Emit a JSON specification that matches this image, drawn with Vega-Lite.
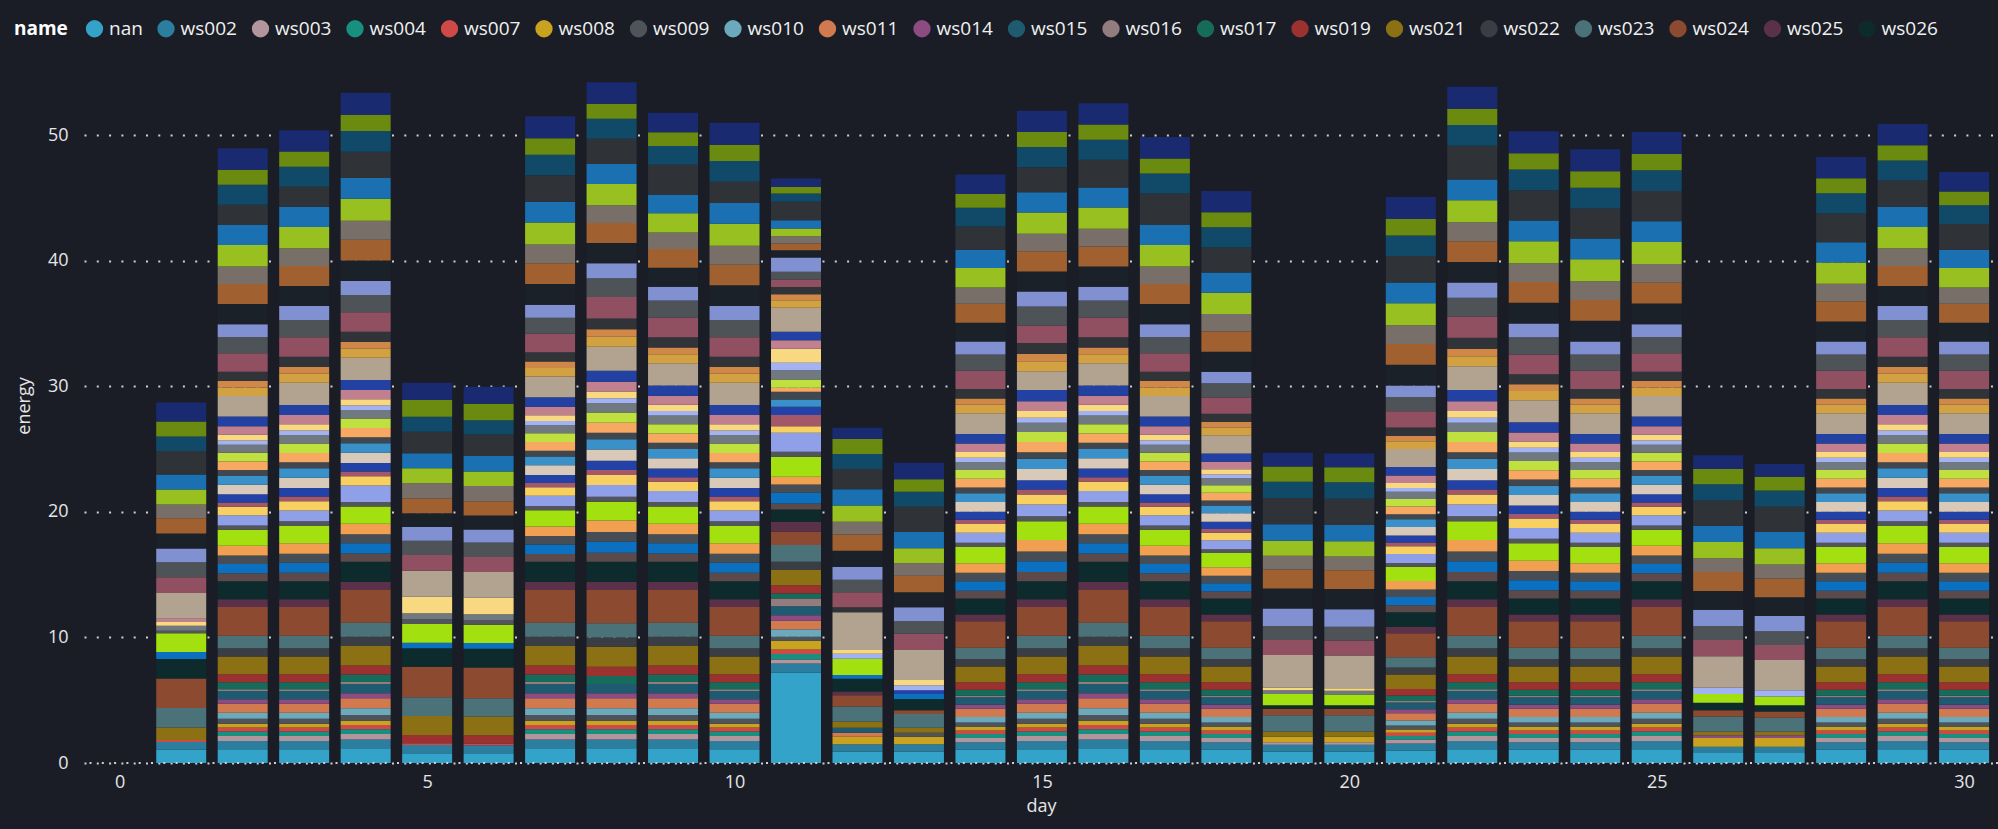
{
"$schema":"https://vega.github.io/schema/vega-lite/v6.json",
"width":1914,"height":715,
"autosize":{"type":"none"},
"padding":{"left":84,"top":48,"right":0,"bottom":66},
"background":"#1a1d26",
"config":{"view":{"stroke":null},"font":"Open Sans"},
"data":{"values":[
{"d":1,"n":"nan","e":1.05},{"d":1,"n":"ws002","e":0.63},{"d":1,"n":"ws007","e":0.15},{"d":1,"n":"ws021","e":1.0},{"d":1,"n":"ws023","e":1.55},{"d":1,"n":"ws024","e":2.35},{"d":1,"n":"ws026","e":1.55},{"d":1,"n":"ws028","e":0.55},{"d":1,"n":"ws031","e":1.5},{"d":1,"n":"ws032","e":0.2},{"d":1,"n":"ws042","e":0.4},{"d":1,"n":"ws044","e":0.3},{"d":1,"n":"ws045","e":0.25},{"d":1,"n":"ws047","e":2.05},{"d":1,"n":"ws051","e":1.25},{"d":1,"n":"ws052","e":1.2},{"d":1,"n":"ws053","e":1.1},{"d":1,"n":"ws054","e":1.2},{"d":1,"n":"ws055","e":1.2},{"d":1,"n":"ws056","e":1.1},{"d":1,"n":"ws057","e":1.2},{"d":1,"n":"ws058","e":1.2},{"d":1,"n":"ws059","e":1.87},{"d":1,"n":"ws060","e":1.15},{"d":1,"n":"ws061","e":1.2},{"d":1,"n":"ws062","e":1.5},
{"d":2,"n":"nan","e":1.1},{"d":2,"n":"ws002","e":0.65},{"d":2,"n":"ws003","e":0.4},{"d":2,"n":"ws004","e":0.35},{"d":2,"n":"ws007","e":0.32},{"d":2,"n":"ws008","e":0.3},{"d":2,"n":"ws009","e":0.4},{"d":2,"n":"ws010","e":0.48},{"d":2,"n":"ws011","e":0.72},{"d":2,"n":"ws014","e":0.36},{"d":2,"n":"ws015","e":0.66},{"d":2,"n":"ws016","e":0.14},{"d":2,"n":"ws017","e":0.54},{"d":2,"n":"ws019","e":0.65},{"d":2,"n":"ws021","e":1.4},{"d":2,"n":"ws022","e":0.66},{"d":2,"n":"ws023","e":1.0},{"d":2,"n":"ws024","e":2.3},{"d":2,"n":"ws025","e":0.6},{"d":2,"n":"ws026","e":1.45},
{"d":2,"n":"ws027","e":0.62},{"d":2,"n":"ws028","e":0.75},{"d":2,"n":"ws029","e":0.67},{"d":2,"n":"ws030","e":0.77},{"d":2,"n":"ws031","e":1.29},{"d":2,"n":"ws032","e":0.34},{"d":2,"n":"ws033","e":0.8},{"d":2,"n":"ws034","e":0.69},{"d":2,"n":"ws035","e":0.34},{"d":2,"n":"ws036","e":0.64},{"d":2,"n":"ws037","e":0.77},{"d":2,"n":"ws038","e":0.7},{"d":2,"n":"ws039","e":0.46},{"d":2,"n":"ws040","e":0.69},{"d":2,"n":"ws041","e":0.69},{"d":2,"n":"ws042","e":0.64},{"d":2,"n":"ws043","e":0.34},{"d":2,"n":"ws044","e":0.46},{"d":2,"n":"ws045","e":0.68},{"d":2,"n":"ws046","e":0.76},{"d":2,"n":"ws047","e":1.64},{"d":2,"n":"ws048","e":0.68},{"d":2,"n":"ws049","e":0.51},{"d":2,"n":"ws050","e":0.75},{"d":2,"n":"ws051","e":1.46},{"d":2,"n":"ws052","e":1.29},{"d":2,"n":"ws053","e":1.03},
{"d":2,"n":"ws054","e":1.6},{"d":2,"n":"ws055","e":1.6},{"d":2,"n":"ws056","e":1.4},{"d":2,"n":"ws057","e":1.7},{"d":2,"n":"ws058","e":1.6},{"d":2,"n":"ws059","e":1.6},{"d":2,"n":"ws060","e":1.6},{"d":2,"n":"ws061","e":1.2},{"d":2,"n":"ws062","e":1.7},
{"d":3,"n":"nan","e":1.1},{"d":3,"n":"ws002","e":0.65},{"d":3,"n":"ws003","e":0.4},{"d":3,"n":"ws004","e":0.35},{"d":3,"n":"ws007","e":0.32},{"d":3,"n":"ws008","e":0.3},{"d":3,"n":"ws009","e":0.4},{"d":3,"n":"ws010","e":0.48},{"d":3,"n":"ws011","e":0.72},{"d":3,"n":"ws014","e":0.36},{"d":3,"n":"ws015","e":0.66},{"d":3,"n":"ws016","e":0.14},{"d":3,"n":"ws017","e":0.54},{"d":3,"n":"ws019","e":0.65},{"d":3,"n":"ws021","e":1.4},{"d":3,"n":"ws022","e":0.66},{"d":3,"n":"ws023","e":1.0},{"d":3,"n":"ws024","e":2.3},{"d":3,"n":"ws025","e":0.6},{"d":3,"n":"ws026","e":1.45},
{"d":3,"n":"ws027","e":0.66},{"d":3,"n":"ws028","e":0.8},{"d":3,"n":"ws029","e":0.72},{"d":3,"n":"ws030","e":0.83},{"d":3,"n":"ws031","e":1.38},{"d":3,"n":"ws032","e":0.37},{"d":3,"n":"ws033","e":0.86},{"d":3,"n":"ws034","e":0.74},{"d":3,"n":"ws035","e":0.37},{"d":3,"n":"ws036","e":0.68},{"d":3,"n":"ws037","e":0.82},{"d":3,"n":"ws038","e":0.75},{"d":3,"n":"ws039","e":0.49},{"d":3,"n":"ws040","e":0.74},{"d":3,"n":"ws041","e":0.74},{"d":3,"n":"ws042","e":0.68},{"d":3,"n":"ws043","e":0.37},{"d":3,"n":"ws044","e":0.49},{"d":3,"n":"ws045","e":0.73},{"d":3,"n":"ws046","e":0.81},{"d":3,"n":"ws047","e":1.76},{"d":3,"n":"ws048","e":0.73},{"d":3,"n":"ws049","e":0.54},{"d":3,"n":"ws050","e":0.8},{"d":3,"n":"ws051","e":1.56},{"d":3,"n":"ws052","e":1.38},{"d":3,"n":"ws053","e":1.1},
{"d":3,"n":"ws054","e":1.6},{"d":3,"n":"ws055","e":1.6},{"d":3,"n":"ws056","e":1.4},{"d":3,"n":"ws057","e":1.7},{"d":3,"n":"ws058","e":1.6},{"d":3,"n":"ws059","e":1.6},{"d":3,"n":"ws060","e":1.6},{"d":3,"n":"ws061","e":1.2},{"d":3,"n":"ws062","e":1.7},
{"d":4,"n":"nan","e":1.17},{"d":4,"n":"ws002","e":0.7},{"d":4,"n":"ws003","e":0.43},{"d":4,"n":"ws004","e":0.38},{"d":4,"n":"ws007","e":0.35},{"d":4,"n":"ws008","e":0.34},{"d":4,"n":"ws009","e":0.45},{"d":4,"n":"ws010","e":0.53},{"d":4,"n":"ws011","e":0.8},{"d":4,"n":"ws014","e":0.4},{"d":4,"n":"ws015","e":0.74},{"d":4,"n":"ws016","e":0.15},{"d":4,"n":"ws017","e":0.6},{"d":4,"n":"ws019","e":0.72},{"d":4,"n":"ws021","e":1.55},{"d":4,"n":"ws022","e":0.74},{"d":4,"n":"ws023","e":1.12},{"d":4,"n":"ws024","e":2.6},{"d":4,"n":"ws025","e":0.67},{"d":4,"n":"ws026","e":1.59},
{"d":4,"n":"ws027","e":0.66},{"d":4,"n":"ws028","e":0.8},{"d":4,"n":"ws029","e":0.72},{"d":4,"n":"ws030","e":0.83},{"d":4,"n":"ws031","e":1.38},{"d":4,"n":"ws032","e":0.37},{"d":4,"n":"ws033","e":1.3},{"d":4,"n":"ws034","e":0.74},{"d":4,"n":"ws035","e":0.37},{"d":4,"n":"ws036","e":0.68},{"d":4,"n":"ws037","e":0.82},{"d":4,"n":"ws038","e":0.75},{"d":4,"n":"ws039","e":0.49},{"d":4,"n":"ws040","e":0.74},{"d":4,"n":"ws041","e":0.74},{"d":4,"n":"ws042","e":0.68},{"d":4,"n":"ws043","e":0.37},{"d":4,"n":"ws044","e":0.49},{"d":4,"n":"ws045","e":0.73},{"d":4,"n":"ws046","e":0.81},{"d":4,"n":"ws047","e":1.76},{"d":4,"n":"ws048","e":0.73},{"d":4,"n":"ws049","e":0.54},{"d":4,"n":"ws050","e":0.8},{"d":4,"n":"ws051","e":1.56},{"d":4,"n":"ws052","e":1.38},{"d":4,"n":"ws053","e":1.1},
{"d":4,"n":"ws054","e":1.65},{"d":4,"n":"ws055","e":1.65},{"d":4,"n":"ws056","e":1.5},{"d":4,"n":"ws057","e":1.75},{"d":4,"n":"ws058","e":1.65},{"d":4,"n":"ws059","e":2.1},{"d":4,"n":"ws060","e":1.65},{"d":4,"n":"ws061","e":1.3},{"d":4,"n":"ws062","e":1.75},
{"d":5,"n":"nan","e":0.72},{"d":5,"n":"ws002","e":0.71},{"d":5,"n":"ws007","e":0.14},{"d":5,"n":"ws019","e":0.66},{"d":5,"n":"ws021","e":1.51},{"d":5,"n":"ws023","e":1.49},{"d":5,"n":"ws024","e":2.44},{"d":5,"n":"ws026","e":1.46},{"d":5,"n":"ws028","e":0.45},{"d":5,"n":"ws031","e":1.49},{"d":5,"n":"ws032","e":0.37},{"d":5,"n":"ws042","e":0.48},{"d":5,"n":"ws044","e":1.32},{"d":5,"n":"ws047","e":2.07},{"d":5,"n":"ws051","e":1.25},{"d":5,"n":"ws052","e":1.14},{"d":5,"n":"ws053","e":1.1},{"d":5,"n":"ws054","e":1.08},{"d":5,"n":"ws055","e":1.19},{"d":5,"n":"ws056","e":1.2},{"d":5,"n":"ws057","e":1.19},{"d":5,"n":"ws058","e":1.2},{"d":5,"n":"ws059","e":1.72},{"d":5,"n":"ws060","e":1.19},{"d":5,"n":"ws061","e":1.33},{"d":5,"n":"ws062","e":1.38},
{"d":6,"n":"nan","e":0.72},{"d":6,"n":"ws002","e":0.7},{"d":6,"n":"ws007","e":0.14},{"d":6,"n":"ws019","e":0.64},{"d":6,"n":"ws021","e":1.5},{"d":6,"n":"ws023","e":1.45},{"d":6,"n":"ws024","e":2.45},{"d":6,"n":"ws026","e":1.5},{"d":6,"n":"ws028","e":0.45},{"d":6,"n":"ws031","e":1.45},{"d":6,"n":"ws032","e":0.35},{"d":6,"n":"ws042","e":0.5},{"d":6,"n":"ws044","e":1.3},{"d":6,"n":"ws047","e":2.05},{"d":6,"n":"ws051","e":1.2},{"d":6,"n":"ws052","e":1.15},{"d":6,"n":"ws053","e":1.05},{"d":6,"n":"ws054","e":1.1},{"d":6,"n":"ws055","e":1.15},{"d":6,"n":"ws056","e":1.2},{"d":6,"n":"ws057","e":1.15},{"d":6,"n":"ws058","e":1.25},{"d":6,"n":"ws059","e":1.7},{"d":6,"n":"ws060","e":1.15},{"d":6,"n":"ws061","e":1.3},{"d":6,"n":"ws062","e":1.35},
{"d":7,"n":"nan","e":1.17},{"d":7,"n":"ws002","e":0.7},{"d":7,"n":"ws003","e":0.43},{"d":7,"n":"ws004","e":0.38},{"d":7,"n":"ws007","e":0.35},{"d":7,"n":"ws008","e":0.34},{"d":7,"n":"ws009","e":0.45},{"d":7,"n":"ws010","e":0.53},{"d":7,"n":"ws011","e":0.8},{"d":7,"n":"ws014","e":0.4},{"d":7,"n":"ws015","e":0.74},{"d":7,"n":"ws016","e":0.15},{"d":7,"n":"ws017","e":0.6},{"d":7,"n":"ws019","e":0.72},{"d":7,"n":"ws021","e":1.55},{"d":7,"n":"ws022","e":0.74},{"d":7,"n":"ws023","e":1.12},{"d":7,"n":"ws024","e":2.6},{"d":7,"n":"ws025","e":0.67},{"d":7,"n":"ws026","e":1.59},
{"d":7,"n":"ws027","e":0.62},{"d":7,"n":"ws028","e":0.75},{"d":7,"n":"ws029","e":0.67},{"d":7,"n":"ws030","e":0.77},{"d":7,"n":"ws031","e":1.29},{"d":7,"n":"ws032","e":0.34},{"d":7,"n":"ws033","e":0.8},{"d":7,"n":"ws034","e":0.69},{"d":7,"n":"ws035","e":0.34},{"d":7,"n":"ws036","e":0.64},{"d":7,"n":"ws037","e":0.77},{"d":7,"n":"ws038","e":0.7},{"d":7,"n":"ws039","e":0.46},{"d":7,"n":"ws040","e":0.69},{"d":7,"n":"ws041","e":0.69},{"d":7,"n":"ws042","e":0.64},{"d":7,"n":"ws043","e":0.34},{"d":7,"n":"ws044","e":0.46},{"d":7,"n":"ws045","e":0.68},{"d":7,"n":"ws046","e":0.76},{"d":7,"n":"ws047","e":1.64},{"d":7,"n":"ws048","e":0.68},{"d":7,"n":"ws049","e":0.51},{"d":7,"n":"ws050","e":0.75},{"d":7,"n":"ws051","e":1.46},{"d":7,"n":"ws052","e":1.29},{"d":7,"n":"ws053","e":1.03},
{"d":7,"n":"ws054","e":1.65},{"d":7,"n":"ws055","e":1.65},{"d":7,"n":"ws056","e":1.5},{"d":7,"n":"ws057","e":1.75},{"d":7,"n":"ws058","e":1.65},{"d":7,"n":"ws059","e":2.1},{"d":7,"n":"ws060","e":1.65},{"d":7,"n":"ws061","e":1.3},{"d":7,"n":"ws062","e":1.75},
{"d":8,"n":"nan","e":1.17},{"d":8,"n":"ws002","e":0.7},{"d":8,"n":"ws003","e":0.43},{"d":8,"n":"ws004","e":0.38},{"d":8,"n":"ws007","e":0.35},{"d":8,"n":"ws008","e":0.34},{"d":8,"n":"ws009","e":0.45},{"d":8,"n":"ws010","e":0.53},{"d":8,"n":"ws011","e":0.8},{"d":8,"n":"ws014","e":0.4},{"d":8,"n":"ws015","e":0.74},{"d":8,"n":"ws017","e":0.64},{"d":8,"n":"ws019","e":0.74},{"d":8,"n":"ws021","e":1.59},{"d":8,"n":"ws022","e":0.74},{"d":8,"n":"ws023","e":1.12},{"d":8,"n":"ws024","e":2.65},{"d":8,"n":"ws025","e":0.67},{"d":8,"n":"ws026","e":1.59},
{"d":8,"n":"ws027","e":0.72},{"d":8,"n":"ws028","e":0.87},{"d":8,"n":"ws029","e":0.78},{"d":8,"n":"ws030","e":0.9},{"d":8,"n":"ws031","e":1.5},{"d":8,"n":"ws032","e":0.4},{"d":8,"n":"ws033","e":0.93},{"d":8,"n":"ws034","e":0.8},{"d":8,"n":"ws035","e":0.4},{"d":8,"n":"ws036","e":0.74},{"d":8,"n":"ws037","e":0.89},{"d":8,"n":"ws038","e":0.81},{"d":8,"n":"ws039","e":0.53},{"d":8,"n":"ws040","e":0.8},{"d":8,"n":"ws041","e":0.8},{"d":8,"n":"ws042","e":0.74},{"d":8,"n":"ws043","e":0.4},{"d":8,"n":"ws044","e":0.53},{"d":8,"n":"ws045","e":0.79},{"d":8,"n":"ws046","e":0.88},{"d":8,"n":"ws047","e":1.91},{"d":8,"n":"ws048","e":0.79},{"d":8,"n":"ws049","e":0.59},{"d":8,"n":"ws050","e":0.87},{"d":8,"n":"ws051","e":1.7},{"d":8,"n":"ws052","e":1.5},{"d":8,"n":"ws053","e":1.2},
{"d":8,"n":"ws054","e":1.6},{"d":8,"n":"ws055","e":1.6},{"d":8,"n":"ws056","e":1.4},{"d":8,"n":"ws057","e":1.7},{"d":8,"n":"ws058","e":1.6},{"d":8,"n":"ws059","e":2.0},{"d":8,"n":"ws060","e":1.6},{"d":8,"n":"ws061","e":1.2},{"d":8,"n":"ws062","e":1.7},
{"d":9,"n":"nan","e":1.17},{"d":9,"n":"ws002","e":0.7},{"d":9,"n":"ws003","e":0.43},{"d":9,"n":"ws004","e":0.38},{"d":9,"n":"ws007","e":0.35},{"d":9,"n":"ws008","e":0.34},{"d":9,"n":"ws009","e":0.45},{"d":9,"n":"ws010","e":0.53},{"d":9,"n":"ws011","e":0.8},{"d":9,"n":"ws014","e":0.4},{"d":9,"n":"ws015","e":0.74},{"d":9,"n":"ws016","e":0.15},{"d":9,"n":"ws017","e":0.6},{"d":9,"n":"ws019","e":0.72},{"d":9,"n":"ws021","e":1.55},{"d":9,"n":"ws022","e":0.74},{"d":9,"n":"ws023","e":1.12},{"d":9,"n":"ws024","e":2.6},{"d":9,"n":"ws025","e":0.67},{"d":9,"n":"ws026","e":1.59},
{"d":9,"n":"ws027","e":0.66},{"d":9,"n":"ws028","e":0.8},{"d":9,"n":"ws029","e":0.72},{"d":9,"n":"ws030","e":0.83},{"d":9,"n":"ws031","e":1.38},{"d":9,"n":"ws032","e":0.37},{"d":9,"n":"ws033","e":0.86},{"d":9,"n":"ws034","e":0.74},{"d":9,"n":"ws035","e":0.37},{"d":9,"n":"ws036","e":0.68},{"d":9,"n":"ws037","e":0.82},{"d":9,"n":"ws038","e":0.75},{"d":9,"n":"ws039","e":0.49},{"d":9,"n":"ws040","e":0.74},{"d":9,"n":"ws041","e":0.74},{"d":9,"n":"ws042","e":0.68},{"d":9,"n":"ws043","e":0.37},{"d":9,"n":"ws044","e":0.49},{"d":9,"n":"ws045","e":0.73},{"d":9,"n":"ws046","e":0.81},{"d":9,"n":"ws047","e":1.76},{"d":9,"n":"ws048","e":0.73},{"d":9,"n":"ws049","e":0.54},{"d":9,"n":"ws050","e":0.8},{"d":9,"n":"ws051","e":1.56},{"d":9,"n":"ws052","e":1.38},{"d":9,"n":"ws053","e":1.1},
{"d":9,"n":"ws054","e":1.5},{"d":9,"n":"ws055","e":1.5},{"d":9,"n":"ws056","e":1.3},{"d":9,"n":"ws057","e":1.55},{"d":9,"n":"ws058","e":1.45},{"d":9,"n":"ws059","e":2.4},{"d":9,"n":"ws060","e":1.5},{"d":9,"n":"ws061","e":1.1},{"d":9,"n":"ws062","e":1.55},
{"d":10,"n":"nan","e":1.1},{"d":10,"n":"ws002","e":0.65},{"d":10,"n":"ws003","e":0.4},{"d":10,"n":"ws004","e":0.35},{"d":10,"n":"ws007","e":0.32},{"d":10,"n":"ws008","e":0.3},{"d":10,"n":"ws009","e":0.4},{"d":10,"n":"ws010","e":0.48},{"d":10,"n":"ws011","e":0.72},{"d":10,"n":"ws014","e":0.36},{"d":10,"n":"ws015","e":0.66},{"d":10,"n":"ws016","e":0.14},{"d":10,"n":"ws017","e":0.54},{"d":10,"n":"ws019","e":0.65},{"d":10,"n":"ws021","e":1.4},{"d":10,"n":"ws022","e":0.66},{"d":10,"n":"ws023","e":1.0},{"d":10,"n":"ws024","e":2.3},{"d":10,"n":"ws025","e":0.6},{"d":10,"n":"ws026","e":1.45},
{"d":10,"n":"ws027","e":0.66},{"d":10,"n":"ws028","e":0.8},{"d":10,"n":"ws029","e":0.72},{"d":10,"n":"ws030","e":0.83},{"d":10,"n":"ws031","e":1.38},{"d":10,"n":"ws032","e":0.37},{"d":10,"n":"ws033","e":0.86},{"d":10,"n":"ws034","e":0.74},{"d":10,"n":"ws035","e":0.37},{"d":10,"n":"ws036","e":0.68},{"d":10,"n":"ws037","e":0.82},{"d":10,"n":"ws038","e":0.75},{"d":10,"n":"ws039","e":0.49},{"d":10,"n":"ws040","e":0.74},{"d":10,"n":"ws041","e":0.74},{"d":10,"n":"ws042","e":0.68},{"d":10,"n":"ws043","e":0.37},{"d":10,"n":"ws044","e":0.49},{"d":10,"n":"ws045","e":0.73},{"d":10,"n":"ws046","e":0.81},{"d":10,"n":"ws047","e":1.76},{"d":10,"n":"ws048","e":0.73},{"d":10,"n":"ws049","e":0.54},{"d":10,"n":"ws050","e":0.8},{"d":10,"n":"ws051","e":1.56},{"d":10,"n":"ws052","e":1.38},{"d":10,"n":"ws053","e":1.1},
{"d":10,"n":"ws054","e":1.65},{"d":10,"n":"ws055","e":1.65},{"d":10,"n":"ws056","e":1.5},{"d":10,"n":"ws057","e":1.75},{"d":10,"n":"ws058","e":1.65},{"d":10,"n":"ws059","e":1.7},{"d":10,"n":"ws060","e":1.65},{"d":10,"n":"ws061","e":1.3},{"d":10,"n":"ws062","e":1.75},
{"d":11,"n":"nan","e":7.19},{"d":11,"n":"ws002","e":0.74},{"d":11,"n":"ws003","e":0.32},{"d":11,"n":"ws004","e":0.42},{"d":11,"n":"ws007","e":0.37},{"d":11,"n":"ws008","e":0.69},{"d":11,"n":"ws009","e":0.32},{"d":11,"n":"ws010","e":0.58},{"d":11,"n":"ws011","e":0.69},{"d":11,"n":"ws014","e":0.45},{"d":11,"n":"ws015","e":0.72},{"d":11,"n":"ws016","e":0.61},{"d":11,"n":"ws017","e":0.4},{"d":11,"n":"ws019","e":0.66},{"d":11,"n":"ws021","e":1.2},{"d":11,"n":"ws022","e":0.66},{"d":11,"n":"ws023","e":1.33},{"d":11,"n":"ws024","e":1.06},{"d":11,"n":"ws025","e":0.79},{"d":11,"n":"ws026","e":0.99},
{"d":11,"n":"ws027","e":0.48},{"d":11,"n":"ws028","e":0.84},{"d":11,"n":"ws029","e":0.67},{"d":11,"n":"ws030","e":0.61},{"d":11,"n":"ws031","e":1.59},{"d":11,"n":"ws032","e":0.4},{"d":11,"n":"ws033","e":1.51},{"d":11,"n":"ws034","e":0.53},{"d":11,"n":"ws035","e":0.88},{"d":11,"n":"ws036","e":0.66},{"d":11,"n":"ws038","e":0.59},{"d":11,"n":"ws039","e":0.6},{"d":11,"n":"ws040","e":0.32},{"d":11,"n":"ws041","e":0.67},{"d":11,"n":"ws042","e":0.74},{"d":11,"n":"ws043","e":0.58},{"d":11,"n":"ws044","e":1.13},{"d":11,"n":"ws045","e":0.68},{"d":11,"n":"ws046","e":0.66},{"d":11,"n":"ws047","e":1.91},{"d":11,"n":"ws048","e":0.61},{"d":11,"n":"ws049","e":0.48},{"d":11,"n":"ws050","e":0.58},{"d":11,"n":"ws051","e":0.58},{"d":11,"n":"ws052","e":0.62},{"d":11,"n":"ws053","e":1.14},
{"d":11,"n":"ws054","e":0.58},{"d":11,"n":"ws055","e":0.54},{"d":11,"n":"ws056","e":0.58},{"d":11,"n":"ws057","e":0.61},{"d":11,"n":"ws058","e":0.66},{"d":11,"n":"ws059","e":1.46},{"d":11,"n":"ws060","e":0.66},{"d":11,"n":"ws061","e":0.53},{"d":11,"n":"ws062","e":0.66},
{"d":12,"n":"nan","e":0.9},{"d":12,"n":"ws002","e":0.6},{"d":12,"n":"ws008","e":0.6},{"d":12,"n":"ws011","e":0.3},{"d":12,"n":"ws015","e":0.4},{"d":12,"n":"ws021","e":0.5},{"d":12,"n":"ws023","e":1.2},{"d":12,"n":"ws024","e":0.9},{"d":12,"n":"ws025","e":0.3},{"d":12,"n":"ws026","e":1.0},{"d":12,"n":"ws028","e":0.3},{"d":12,"n":"ws031","e":1.3},{"d":12,"n":"ws043","e":0.4},{"d":12,"n":"ws044","e":0.3},{"d":12,"n":"ws047","e":3.0},{"d":12,"n":"ws050","e":0.4},{"d":12,"n":"ws051","e":1.2},{"d":12,"n":"ws052","e":1.0},{"d":12,"n":"ws053","e":1.0},{"d":12,"n":"ws054","e":1.3},{"d":12,"n":"ws055","e":1.3},{"d":12,"n":"ws056","e":1.0},{"d":12,"n":"ws057","e":1.3},{"d":12,"n":"ws058","e":1.3},{"d":12,"n":"ws059","e":1.6},{"d":12,"n":"ws060","e":1.2},{"d":12,"n":"ws061","e":1.2},{"d":12,"n":"ws062","e":0.9},
{"d":13,"n":"nan","e":0.9},{"d":13,"n":"ws002","e":0.6},{"d":13,"n":"ws008","e":0.6},{"d":13,"n":"ws009","e":0.3},{"d":13,"n":"ws021","e":0.4},{"d":13,"n":"ws023","e":1.1},{"d":13,"n":"ws024","e":0.3},{"d":13,"n":"ws026","e":0.9},{"d":13,"n":"ws028","e":0.4},{"d":13,"n":"ws036","e":0.3},{"d":13,"n":"ws043","e":0.4},{"d":13,"n":"ws044","e":0.4},{"d":13,"n":"ws047","e":2.4},{"d":13,"n":"ws051","e":1.3},{"d":13,"n":"ws052","e":1.0},{"d":13,"n":"ws053","e":1.1},{"d":13,"n":"ws054","e":1.2},{"d":13,"n":"ws055","e":1.3},{"d":13,"n":"ws056","e":1.0},{"d":13,"n":"ws057","e":1.2},{"d":13,"n":"ws058","e":1.3},{"d":13,"n":"ws059","e":2.0},{"d":13,"n":"ws060","e":1.2},{"d":13,"n":"ws061","e":1.0},{"d":13,"n":"ws062","e":1.3},
{"d":14,"n":"nan","e":1.05},{"d":14,"n":"ws002","e":0.6},{"d":14,"n":"ws003","e":0.35},{"d":14,"n":"ws004","e":0.31},{"d":14,"n":"ws007","e":0.28},{"d":14,"n":"ws008","e":0.28},{"d":14,"n":"ws009","e":0.36},{"d":14,"n":"ws010","e":0.43},{"d":14,"n":"ws011","e":0.65},{"d":14,"n":"ws014","e":0.32},{"d":14,"n":"ws015","e":0.6},{"d":14,"n":"ws016","e":0.12},{"d":14,"n":"ws017","e":0.49},{"d":14,"n":"ws019","e":0.58},{"d":14,"n":"ws021","e":1.26},{"d":14,"n":"ws022","e":0.6},{"d":14,"n":"ws023","e":0.9},{"d":14,"n":"ws024","e":2.1},{"d":14,"n":"ws025","e":0.54},{"d":14,"n":"ws026","e":1.28},
{"d":14,"n":"ws027","e":0.62},{"d":14,"n":"ws028","e":0.75},{"d":14,"n":"ws029","e":0.67},{"d":14,"n":"ws030","e":0.77},{"d":14,"n":"ws031","e":1.29},{"d":14,"n":"ws032","e":0.34},{"d":14,"n":"ws033","e":0.8},{"d":14,"n":"ws034","e":0.69},{"d":14,"n":"ws035","e":0.34},{"d":14,"n":"ws036","e":0.64},{"d":14,"n":"ws037","e":0.77},{"d":14,"n":"ws038","e":0.7},{"d":14,"n":"ws039","e":0.46},{"d":14,"n":"ws040","e":0.69},{"d":14,"n":"ws041","e":0.69},{"d":14,"n":"ws042","e":0.64},{"d":14,"n":"ws043","e":0.34},{"d":14,"n":"ws044","e":0.46},{"d":14,"n":"ws045","e":0.68},{"d":14,"n":"ws046","e":0.76},{"d":14,"n":"ws047","e":1.64},{"d":14,"n":"ws048","e":0.68},{"d":14,"n":"ws049","e":0.51},{"d":14,"n":"ws050","e":0.75},{"d":14,"n":"ws051","e":1.46},{"d":14,"n":"ws052","e":1.29},{"d":14,"n":"ws053","e":1.03},
{"d":14,"n":"ws054","e":1.5},{"d":14,"n":"ws055","e":1.5},{"d":14,"n":"ws056","e":1.3},{"d":14,"n":"ws057","e":1.55},{"d":14,"n":"ws058","e":1.45},{"d":14,"n":"ws059","e":1.85},{"d":14,"n":"ws060","e":1.5},{"d":14,"n":"ws061","e":1.1},{"d":14,"n":"ws062","e":1.55},
{"d":15,"n":"nan","e":1.1},{"d":15,"n":"ws002","e":0.65},{"d":15,"n":"ws003","e":0.4},{"d":15,"n":"ws004","e":0.35},{"d":15,"n":"ws007","e":0.32},{"d":15,"n":"ws008","e":0.3},{"d":15,"n":"ws009","e":0.4},{"d":15,"n":"ws010","e":0.48},{"d":15,"n":"ws011","e":0.72},{"d":15,"n":"ws014","e":0.36},{"d":15,"n":"ws015","e":0.66},{"d":15,"n":"ws016","e":0.14},{"d":15,"n":"ws017","e":0.54},{"d":15,"n":"ws019","e":0.65},{"d":15,"n":"ws021","e":1.4},{"d":15,"n":"ws022","e":0.66},{"d":15,"n":"ws023","e":1.0},{"d":15,"n":"ws024","e":2.3},{"d":15,"n":"ws025","e":0.6},{"d":15,"n":"ws026","e":1.45},
{"d":15,"n":"ws027","e":0.72},{"d":15,"n":"ws028","e":0.87},{"d":15,"n":"ws029","e":0.78},{"d":15,"n":"ws030","e":0.9},{"d":15,"n":"ws031","e":1.5},{"d":15,"n":"ws032","e":0.4},{"d":15,"n":"ws033","e":0.93},{"d":15,"n":"ws034","e":0.8},{"d":15,"n":"ws035","e":0.4},{"d":15,"n":"ws036","e":0.74},{"d":15,"n":"ws037","e":0.89},{"d":15,"n":"ws038","e":0.81},{"d":15,"n":"ws039","e":0.53},{"d":15,"n":"ws040","e":0.8},{"d":15,"n":"ws041","e":0.8},{"d":15,"n":"ws042","e":0.74},{"d":15,"n":"ws043","e":0.4},{"d":15,"n":"ws044","e":0.53},{"d":15,"n":"ws045","e":0.79},{"d":15,"n":"ws046","e":0.88},{"d":15,"n":"ws047","e":1.5},{"d":15,"n":"ws048","e":0.79},{"d":15,"n":"ws049","e":0.59},{"d":15,"n":"ws050","e":0.87},{"d":15,"n":"ws051","e":1.4},{"d":15,"n":"ws052","e":1.5},{"d":15,"n":"ws053","e":1.2},
{"d":15,"n":"ws054","e":1.6},{"d":15,"n":"ws055","e":1.6},{"d":15,"n":"ws056","e":1.4},{"d":15,"n":"ws057","e":1.7},{"d":15,"n":"ws058","e":1.6},{"d":15,"n":"ws059","e":2.0},{"d":15,"n":"ws060","e":1.6},{"d":15,"n":"ws061","e":1.2},{"d":15,"n":"ws062","e":1.7},
{"d":16,"n":"nan","e":1.17},{"d":16,"n":"ws002","e":0.7},{"d":16,"n":"ws003","e":0.43},{"d":16,"n":"ws004","e":0.38},{"d":16,"n":"ws007","e":0.35},{"d":16,"n":"ws008","e":0.34},{"d":16,"n":"ws009","e":0.45},{"d":16,"n":"ws010","e":0.53},{"d":16,"n":"ws011","e":0.8},{"d":16,"n":"ws014","e":0.4},{"d":16,"n":"ws015","e":0.74},{"d":16,"n":"ws016","e":0.15},{"d":16,"n":"ws017","e":0.6},{"d":16,"n":"ws019","e":0.72},{"d":16,"n":"ws021","e":1.55},{"d":16,"n":"ws022","e":0.74},{"d":16,"n":"ws023","e":1.12},{"d":16,"n":"ws024","e":2.6},{"d":16,"n":"ws025","e":0.67},{"d":16,"n":"ws026","e":1.59},
{"d":16,"n":"ws027","e":0.66},{"d":16,"n":"ws028","e":0.8},{"d":16,"n":"ws029","e":0.72},{"d":16,"n":"ws030","e":0.83},{"d":16,"n":"ws031","e":1.38},{"d":16,"n":"ws032","e":0.37},{"d":16,"n":"ws033","e":0.86},{"d":16,"n":"ws034","e":0.74},{"d":16,"n":"ws035","e":0.37},{"d":16,"n":"ws036","e":0.68},{"d":16,"n":"ws037","e":0.82},{"d":16,"n":"ws038","e":0.75},{"d":16,"n":"ws039","e":0.49},{"d":16,"n":"ws040","e":0.74},{"d":16,"n":"ws041","e":0.74},{"d":16,"n":"ws042","e":0.68},{"d":16,"n":"ws043","e":0.37},{"d":16,"n":"ws044","e":0.49},{"d":16,"n":"ws045","e":0.73},{"d":16,"n":"ws046","e":0.81},{"d":16,"n":"ws047","e":1.76},{"d":16,"n":"ws048","e":0.73},{"d":16,"n":"ws049","e":0.54},{"d":16,"n":"ws050","e":0.8},{"d":16,"n":"ws051","e":1.56},{"d":16,"n":"ws052","e":1.38},{"d":16,"n":"ws053","e":1.1},
{"d":16,"n":"ws054","e":1.6},{"d":16,"n":"ws055","e":1.6},{"d":16,"n":"ws056","e":1.4},{"d":16,"n":"ws057","e":1.7},{"d":16,"n":"ws058","e":1.6},{"d":16,"n":"ws059","e":2.2},{"d":16,"n":"ws060","e":1.6},{"d":16,"n":"ws061","e":1.2},{"d":16,"n":"ws062","e":1.7},
{"d":17,"n":"nan","e":1.1},{"d":17,"n":"ws002","e":0.65},{"d":17,"n":"ws003","e":0.4},{"d":17,"n":"ws004","e":0.35},{"d":17,"n":"ws007","e":0.32},{"d":17,"n":"ws008","e":0.3},{"d":17,"n":"ws009","e":0.4},{"d":17,"n":"ws010","e":0.48},{"d":17,"n":"ws011","e":0.72},{"d":17,"n":"ws014","e":0.36},{"d":17,"n":"ws015","e":0.66},{"d":17,"n":"ws016","e":0.14},{"d":17,"n":"ws017","e":0.54},{"d":17,"n":"ws019","e":0.65},{"d":17,"n":"ws021","e":1.4},{"d":17,"n":"ws022","e":0.66},{"d":17,"n":"ws023","e":1.0},{"d":17,"n":"ws024","e":2.3},{"d":17,"n":"ws025","e":0.6},{"d":17,"n":"ws026","e":1.45},
{"d":17,"n":"ws027","e":0.62},{"d":17,"n":"ws028","e":0.75},{"d":17,"n":"ws029","e":0.67},{"d":17,"n":"ws030","e":0.77},{"d":17,"n":"ws031","e":1.29},{"d":17,"n":"ws032","e":0.34},{"d":17,"n":"ws033","e":0.8},{"d":17,"n":"ws034","e":0.69},{"d":17,"n":"ws035","e":0.34},{"d":17,"n":"ws036","e":0.64},{"d":17,"n":"ws037","e":0.77},{"d":17,"n":"ws038","e":0.7},{"d":17,"n":"ws039","e":0.46},{"d":17,"n":"ws040","e":0.69},{"d":17,"n":"ws041","e":0.69},{"d":17,"n":"ws042","e":0.64},{"d":17,"n":"ws043","e":0.34},{"d":17,"n":"ws044","e":0.46},{"d":17,"n":"ws045","e":0.68},{"d":17,"n":"ws046","e":0.76},{"d":17,"n":"ws047","e":1.64},{"d":17,"n":"ws048","e":0.68},{"d":17,"n":"ws049","e":0.51},{"d":17,"n":"ws050","e":0.75},{"d":17,"n":"ws051","e":1.46},{"d":17,"n":"ws052","e":1.29},{"d":17,"n":"ws053","e":1.03},
{"d":17,"n":"ws054","e":1.6},{"d":17,"n":"ws055","e":1.6},{"d":17,"n":"ws056","e":1.4},{"d":17,"n":"ws057","e":1.7},{"d":17,"n":"ws058","e":1.6},{"d":17,"n":"ws059","e":2.5},{"d":17,"n":"ws060","e":1.6},{"d":17,"n":"ws061","e":1.2},{"d":17,"n":"ws062","e":1.7},
{"d":18,"n":"nan","e":1.05},{"d":18,"n":"ws002","e":0.6},{"d":18,"n":"ws003","e":0.35},{"d":18,"n":"ws004","e":0.31},{"d":18,"n":"ws007","e":0.28},{"d":18,"n":"ws008","e":0.28},{"d":18,"n":"ws009","e":0.36},{"d":18,"n":"ws010","e":0.43},{"d":18,"n":"ws011","e":0.65},{"d":18,"n":"ws014","e":0.32},{"d":18,"n":"ws015","e":0.6},{"d":18,"n":"ws016","e":0.12},{"d":18,"n":"ws017","e":0.49},{"d":18,"n":"ws019","e":0.58},{"d":18,"n":"ws021","e":1.26},{"d":18,"n":"ws022","e":0.6},{"d":18,"n":"ws023","e":0.9},{"d":18,"n":"ws024","e":2.1},{"d":18,"n":"ws025","e":0.54},{"d":18,"n":"ws026","e":1.28},
{"d":18,"n":"ws027","e":0.55},{"d":18,"n":"ws028","e":0.66},{"d":18,"n":"ws029","e":0.59},{"d":18,"n":"ws030","e":0.68},{"d":18,"n":"ws031","e":1.14},{"d":18,"n":"ws032","e":0.3},{"d":18,"n":"ws033","e":0.71},{"d":18,"n":"ws034","e":0.61},{"d":18,"n":"ws035","e":0.3},{"d":18,"n":"ws036","e":0.56},{"d":18,"n":"ws037","e":0.68},{"d":18,"n":"ws038","e":0.62},{"d":18,"n":"ws039","e":0.4},{"d":18,"n":"ws040","e":0.61},{"d":18,"n":"ws041","e":0.61},{"d":18,"n":"ws042","e":0.56},{"d":18,"n":"ws043","e":0.3},{"d":18,"n":"ws044","e":0.4},{"d":18,"n":"ws045","e":0.6},{"d":18,"n":"ws046","e":0.67},{"d":18,"n":"ws047","e":1.45},{"d":18,"n":"ws048","e":0.6},{"d":18,"n":"ws049","e":0.45},{"d":18,"n":"ws050","e":0.66},{"d":18,"n":"ws051","e":1.29},{"d":18,"n":"ws052","e":1.14},{"d":18,"n":"ws053","e":0.91},
{"d":18,"n":"ws054","e":1.6},{"d":18,"n":"ws055","e":1.6},{"d":18,"n":"ws056","e":1.4},{"d":18,"n":"ws057","e":1.7},{"d":18,"n":"ws058","e":1.6},{"d":18,"n":"ws059","e":2.0},{"d":18,"n":"ws060","e":1.6},{"d":18,"n":"ws061","e":1.2},{"d":18,"n":"ws062","e":1.7},
{"d":19,"n":"nan","e":0.9},{"d":19,"n":"ws002","e":0.55},{"d":19,"n":"ws003","e":0.2},{"d":19,"n":"ws008","e":0.45},{"d":19,"n":"ws021","e":0.4},{"d":19,"n":"ws023","e":1.3},{"d":19,"n":"ws024","e":0.5},{"d":19,"n":"ws026","e":0.3},{"d":19,"n":"ws031","e":0.9},{"d":19,"n":"ws042","e":0.3},{"d":19,"n":"ws044","e":0.2},{"d":19,"n":"ws047","e":2.6},{"d":19,"n":"ws051","e":1.2},{"d":19,"n":"ws052","e":1.1},{"d":19,"n":"ws053","e":1.4},{"d":19,"n":"ws054","e":1.6},{"d":19,"n":"ws055","e":1.5},{"d":19,"n":"ws056","e":1.1},{"d":19,"n":"ws057","e":1.2},{"d":19,"n":"ws058","e":1.3},{"d":19,"n":"ws059","e":2.1},{"d":19,"n":"ws060","e":1.3},{"d":19,"n":"ws061","e":1.2},{"d":19,"n":"ws062","e":1.1},
{"d":20,"n":"nan","e":0.9},{"d":20,"n":"ws002","e":0.55},{"d":20,"n":"ws003","e":0.2},{"d":20,"n":"ws008","e":0.45},{"d":20,"n":"ws021","e":0.4},{"d":20,"n":"ws023","e":1.3},{"d":20,"n":"ws024","e":0.5},{"d":20,"n":"ws026","e":0.3},{"d":20,"n":"ws031","e":0.85},{"d":20,"n":"ws042","e":0.3},{"d":20,"n":"ws044","e":0.2},{"d":20,"n":"ws047","e":2.6},{"d":20,"n":"ws051","e":1.2},{"d":20,"n":"ws052","e":1.1},{"d":20,"n":"ws053","e":1.4},{"d":20,"n":"ws054","e":1.6},{"d":20,"n":"ws055","e":1.5},{"d":20,"n":"ws056","e":1.1},{"d":20,"n":"ws057","e":1.2},{"d":20,"n":"ws058","e":1.3},{"d":20,"n":"ws059","e":2.1},{"d":20,"n":"ws060","e":1.3},{"d":20,"n":"ws061","e":1.2},{"d":20,"n":"ws062","e":1.1},
{"d":21,"n":"nan","e":1.0},{"d":21,"n":"ws002","e":0.55},{"d":21,"n":"ws003","e":0.32},{"d":21,"n":"ws004","e":0.28},{"d":21,"n":"ws007","e":0.26},{"d":21,"n":"ws008","e":0.25},{"d":21,"n":"ws009","e":0.33},{"d":21,"n":"ws010","e":0.39},{"d":21,"n":"ws011","e":0.59},{"d":21,"n":"ws014","e":0.3},{"d":21,"n":"ws015","e":0.55},{"d":21,"n":"ws016","e":0.11},{"d":21,"n":"ws017","e":0.44},{"d":21,"n":"ws019","e":0.53},{"d":21,"n":"ws021","e":1.15},{"d":21,"n":"ws022","e":0.55},{"d":21,"n":"ws023","e":0.83},{"d":21,"n":"ws024","e":1.9},{"d":21,"n":"ws025","e":0.5},{"d":21,"n":"ws026","e":1.18},
{"d":21,"n":"ws027","e":0.55},{"d":21,"n":"ws028","e":0.66},{"d":21,"n":"ws029","e":0.59},{"d":21,"n":"ws030","e":0.68},{"d":21,"n":"ws031","e":1.14},{"d":21,"n":"ws032","e":0.3},{"d":21,"n":"ws033","e":0.71},{"d":21,"n":"ws034","e":0.61},{"d":21,"n":"ws035","e":0.3},{"d":21,"n":"ws036","e":0.56},{"d":21,"n":"ws037","e":0.68},{"d":21,"n":"ws038","e":0.62},{"d":21,"n":"ws039","e":0.4},{"d":21,"n":"ws040","e":0.61},{"d":21,"n":"ws041","e":0.61},{"d":21,"n":"ws042","e":0.56},{"d":21,"n":"ws043","e":0.3},{"d":21,"n":"ws044","e":0.4},{"d":21,"n":"ws045","e":0.6},{"d":21,"n":"ws046","e":0.67},{"d":21,"n":"ws047","e":1.45},{"d":21,"n":"ws048","e":0.6},{"d":21,"n":"ws049","e":0.45},{"d":21,"n":"ws050","e":0.66},{"d":21,"n":"ws051","e":1.29},{"d":21,"n":"ws052","e":1.14},{"d":21,"n":"ws053","e":0.91},
{"d":21,"n":"ws054","e":1.65},{"d":21,"n":"ws055","e":1.65},{"d":21,"n":"ws056","e":1.5},{"d":21,"n":"ws057","e":1.75},{"d":21,"n":"ws058","e":1.65},{"d":21,"n":"ws059","e":2.1},{"d":21,"n":"ws060","e":1.65},{"d":21,"n":"ws061","e":1.3},{"d":21,"n":"ws062","e":1.75},
{"d":22,"n":"nan","e":1.1},{"d":22,"n":"ws002","e":0.65},{"d":22,"n":"ws003","e":0.4},{"d":22,"n":"ws004","e":0.35},{"d":22,"n":"ws007","e":0.32},{"d":22,"n":"ws008","e":0.3},{"d":22,"n":"ws009","e":0.4},{"d":22,"n":"ws010","e":0.48},{"d":22,"n":"ws011","e":0.72},{"d":22,"n":"ws014","e":0.36},{"d":22,"n":"ws015","e":0.66},{"d":22,"n":"ws016","e":0.14},{"d":22,"n":"ws017","e":0.54},{"d":22,"n":"ws019","e":0.65},{"d":22,"n":"ws021","e":1.4},{"d":22,"n":"ws022","e":0.66},{"d":22,"n":"ws023","e":1.0},{"d":22,"n":"ws024","e":2.3},{"d":22,"n":"ws025","e":0.6},{"d":22,"n":"ws026","e":1.45},
{"d":22,"n":"ws027","e":0.72},{"d":22,"n":"ws028","e":0.87},{"d":22,"n":"ws029","e":0.78},{"d":22,"n":"ws030","e":0.9},{"d":22,"n":"ws031","e":1.5},{"d":22,"n":"ws032","e":0.4},{"d":22,"n":"ws033","e":0.93},{"d":22,"n":"ws034","e":0.8},{"d":22,"n":"ws035","e":0.4},{"d":22,"n":"ws036","e":0.74},{"d":22,"n":"ws037","e":0.89},{"d":22,"n":"ws038","e":0.81},{"d":22,"n":"ws039","e":0.53},{"d":22,"n":"ws040","e":0.8},{"d":22,"n":"ws041","e":0.8},{"d":22,"n":"ws042","e":0.74},{"d":22,"n":"ws043","e":0.4},{"d":22,"n":"ws044","e":0.53},{"d":22,"n":"ws045","e":0.79},{"d":22,"n":"ws046","e":0.88},{"d":22,"n":"ws047","e":1.91},{"d":22,"n":"ws048","e":0.79},{"d":22,"n":"ws049","e":0.59},{"d":22,"n":"ws050","e":0.87},{"d":22,"n":"ws051","e":1.7},{"d":22,"n":"ws052","e":1.5},{"d":22,"n":"ws053","e":1.2},
{"d":22,"n":"ws054","e":1.65},{"d":22,"n":"ws055","e":1.65},{"d":22,"n":"ws056","e":1.5},{"d":22,"n":"ws057","e":1.75},{"d":22,"n":"ws058","e":1.65},{"d":22,"n":"ws059","e":2.7},{"d":22,"n":"ws060","e":1.65},{"d":22,"n":"ws061","e":1.3},{"d":22,"n":"ws062","e":1.75},
{"d":23,"n":"nan","e":1.05},{"d":23,"n":"ws002","e":0.6},{"d":23,"n":"ws003","e":0.35},{"d":23,"n":"ws004","e":0.31},{"d":23,"n":"ws007","e":0.28},{"d":23,"n":"ws008","e":0.28},{"d":23,"n":"ws009","e":0.36},{"d":23,"n":"ws010","e":0.43},{"d":23,"n":"ws011","e":0.65},{"d":23,"n":"ws014","e":0.32},{"d":23,"n":"ws015","e":0.6},{"d":23,"n":"ws016","e":0.12},{"d":23,"n":"ws017","e":0.49},{"d":23,"n":"ws019","e":0.58},{"d":23,"n":"ws021","e":1.26},{"d":23,"n":"ws022","e":0.6},{"d":23,"n":"ws023","e":0.9},{"d":23,"n":"ws024","e":2.1},{"d":23,"n":"ws025","e":0.54},{"d":23,"n":"ws026","e":1.28},
{"d":23,"n":"ws027","e":0.66},{"d":23,"n":"ws028","e":0.8},{"d":23,"n":"ws029","e":0.72},{"d":23,"n":"ws030","e":0.83},{"d":23,"n":"ws031","e":1.38},{"d":23,"n":"ws032","e":0.37},{"d":23,"n":"ws033","e":0.86},{"d":23,"n":"ws034","e":0.74},{"d":23,"n":"ws035","e":0.37},{"d":23,"n":"ws036","e":0.68},{"d":23,"n":"ws037","e":0.82},{"d":23,"n":"ws038","e":0.75},{"d":23,"n":"ws039","e":0.49},{"d":23,"n":"ws040","e":0.74},{"d":23,"n":"ws041","e":0.74},{"d":23,"n":"ws042","e":0.68},{"d":23,"n":"ws043","e":0.37},{"d":23,"n":"ws044","e":0.49},{"d":23,"n":"ws045","e":0.73},{"d":23,"n":"ws046","e":0.81},{"d":23,"n":"ws047","e":1.76},{"d":23,"n":"ws048","e":0.73},{"d":23,"n":"ws049","e":0.54},{"d":23,"n":"ws050","e":0.8},{"d":23,"n":"ws051","e":1.56},{"d":23,"n":"ws052","e":1.38},{"d":23,"n":"ws053","e":1.1},
{"d":23,"n":"ws054","e":1.65},{"d":23,"n":"ws055","e":1.65},{"d":23,"n":"ws056","e":1.5},{"d":23,"n":"ws057","e":1.75},{"d":23,"n":"ws058","e":1.65},{"d":23,"n":"ws059","e":2.4},{"d":23,"n":"ws060","e":1.65},{"d":23,"n":"ws061","e":1.3},{"d":23,"n":"ws062","e":1.75},
{"d":24,"n":"nan","e":1.05},{"d":24,"n":"ws002","e":0.6},{"d":24,"n":"ws003","e":0.35},{"d":24,"n":"ws004","e":0.31},{"d":24,"n":"ws007","e":0.28},{"d":24,"n":"ws008","e":0.28},{"d":24,"n":"ws009","e":0.36},{"d":24,"n":"ws010","e":0.43},{"d":24,"n":"ws011","e":0.65},{"d":24,"n":"ws014","e":0.32},{"d":24,"n":"ws015","e":0.6},{"d":24,"n":"ws016","e":0.12},{"d":24,"n":"ws017","e":0.49},{"d":24,"n":"ws019","e":0.58},{"d":24,"n":"ws021","e":1.26},{"d":24,"n":"ws022","e":0.6},{"d":24,"n":"ws023","e":0.9},{"d":24,"n":"ws024","e":2.1},{"d":24,"n":"ws025","e":0.54},{"d":24,"n":"ws026","e":1.28},
{"d":24,"n":"ws027","e":0.62},{"d":24,"n":"ws028","e":0.75},{"d":24,"n":"ws029","e":0.67},{"d":24,"n":"ws030","e":0.77},{"d":24,"n":"ws031","e":1.29},{"d":24,"n":"ws032","e":0.34},{"d":24,"n":"ws033","e":0.8},{"d":24,"n":"ws034","e":0.69},{"d":24,"n":"ws035","e":0.34},{"d":24,"n":"ws036","e":0.64},{"d":24,"n":"ws037","e":0.77},{"d":24,"n":"ws038","e":0.7},{"d":24,"n":"ws039","e":0.46},{"d":24,"n":"ws040","e":0.69},{"d":24,"n":"ws041","e":0.69},{"d":24,"n":"ws042","e":0.64},{"d":24,"n":"ws043","e":0.34},{"d":24,"n":"ws044","e":0.46},{"d":24,"n":"ws045","e":0.68},{"d":24,"n":"ws046","e":0.76},{"d":24,"n":"ws047","e":1.64},{"d":24,"n":"ws048","e":0.68},{"d":24,"n":"ws049","e":0.51},{"d":24,"n":"ws050","e":0.75},{"d":24,"n":"ws051","e":1.46},{"d":24,"n":"ws052","e":1.29},{"d":24,"n":"ws053","e":1.03},
{"d":24,"n":"ws054","e":1.65},{"d":24,"n":"ws055","e":1.65},{"d":24,"n":"ws056","e":1.5},{"d":24,"n":"ws057","e":1.75},{"d":24,"n":"ws058","e":1.65},{"d":24,"n":"ws059","e":2.4},{"d":24,"n":"ws060","e":1.65},{"d":24,"n":"ws061","e":1.3},{"d":24,"n":"ws062","e":1.75},
{"d":25,"n":"nan","e":1.1},{"d":25,"n":"ws002","e":0.65},{"d":25,"n":"ws003","e":0.4},{"d":25,"n":"ws004","e":0.35},{"d":25,"n":"ws007","e":0.32},{"d":25,"n":"ws008","e":0.3},{"d":25,"n":"ws009","e":0.4},{"d":25,"n":"ws010","e":0.48},{"d":25,"n":"ws011","e":0.72},{"d":25,"n":"ws014","e":0.36},{"d":25,"n":"ws015","e":0.66},{"d":25,"n":"ws016","e":0.14},{"d":25,"n":"ws017","e":0.54},{"d":25,"n":"ws019","e":0.65},{"d":25,"n":"ws021","e":1.4},{"d":25,"n":"ws022","e":0.66},{"d":25,"n":"ws023","e":1.0},{"d":25,"n":"ws024","e":2.3},{"d":25,"n":"ws025","e":0.6},{"d":25,"n":"ws026","e":1.45},
{"d":25,"n":"ws027","e":0.62},{"d":25,"n":"ws028","e":0.75},{"d":25,"n":"ws029","e":0.67},{"d":25,"n":"ws030","e":0.77},{"d":25,"n":"ws031","e":1.29},{"d":25,"n":"ws032","e":0.34},{"d":25,"n":"ws033","e":0.8},{"d":25,"n":"ws034","e":0.69},{"d":25,"n":"ws035","e":0.34},{"d":25,"n":"ws036","e":0.64},{"d":25,"n":"ws037","e":0.77},{"d":25,"n":"ws038","e":0.7},{"d":25,"n":"ws039","e":0.46},{"d":25,"n":"ws040","e":0.69},{"d":25,"n":"ws041","e":0.69},{"d":25,"n":"ws042","e":0.64},{"d":25,"n":"ws043","e":0.34},{"d":25,"n":"ws044","e":0.46},{"d":25,"n":"ws045","e":0.68},{"d":25,"n":"ws046","e":0.76},{"d":25,"n":"ws047","e":1.64},{"d":25,"n":"ws048","e":0.68},{"d":25,"n":"ws049","e":0.51},{"d":25,"n":"ws050","e":0.75},{"d":25,"n":"ws051","e":1.46},{"d":25,"n":"ws052","e":1.29},{"d":25,"n":"ws053","e":1.03},
{"d":25,"n":"ws054","e":1.65},{"d":25,"n":"ws055","e":1.65},{"d":25,"n":"ws056","e":1.5},{"d":25,"n":"ws057","e":1.75},{"d":25,"n":"ws058","e":1.65},{"d":25,"n":"ws059","e":2.4},{"d":25,"n":"ws060","e":1.65},{"d":25,"n":"ws061","e":1.3},{"d":25,"n":"ws062","e":1.75},
{"d":26,"n":"nan","e":0.8},{"d":26,"n":"ws002","e":0.5},{"d":26,"n":"ws008","e":0.7},{"d":26,"n":"ws014","e":0.2},{"d":26,"n":"ws021","e":0.3},{"d":26,"n":"ws023","e":1.2},{"d":26,"n":"ws024","e":0.5},{"d":26,"n":"ws026","e":0.6},{"d":26,"n":"ws031","e":0.7},{"d":26,"n":"ws043","e":0.5},{"d":26,"n":"ws047","e":2.5},{"d":26,"n":"ws051","e":1.3},{"d":26,"n":"ws052","e":1.1},{"d":26,"n":"ws053","e":1.3},{"d":26,"n":"ws054","e":1.5},{"d":26,"n":"ws055","e":1.5},{"d":26,"n":"ws056","e":1.1},{"d":26,"n":"ws057","e":1.3},{"d":26,"n":"ws058","e":1.3},{"d":26,"n":"ws059","e":2.0},{"d":26,"n":"ws060","e":1.3},{"d":26,"n":"ws061","e":1.2},{"d":26,"n":"ws062","e":1.1},
{"d":27,"n":"nan","e":0.8},{"d":27,"n":"ws002","e":0.5},{"d":27,"n":"ws008","e":0.7},{"d":27,"n":"ws014","e":0.2},{"d":27,"n":"ws021","e":0.3},{"d":27,"n":"ws023","e":1.1},{"d":27,"n":"ws024","e":0.5},{"d":27,"n":"ws026","e":0.5},{"d":27,"n":"ws031","e":0.7},{"d":27,"n":"ws043","e":0.5},{"d":27,"n":"ws047","e":2.4},{"d":27,"n":"ws051","e":1.2},{"d":27,"n":"ws052","e":1.1},{"d":27,"n":"ws053","e":1.2},{"d":27,"n":"ws054","e":1.5},{"d":27,"n":"ws055","e":1.5},{"d":27,"n":"ws056","e":1.1},{"d":27,"n":"ws057","e":1.3},{"d":27,"n":"ws058","e":1.3},{"d":27,"n":"ws059","e":2.0},{"d":27,"n":"ws060","e":1.3},{"d":27,"n":"ws061","e":1.1},{"d":27,"n":"ws062","e":1.0},
{"d":28,"n":"nan","e":1.05},{"d":28,"n":"ws002","e":0.6},{"d":28,"n":"ws003","e":0.35},{"d":28,"n":"ws004","e":0.31},{"d":28,"n":"ws007","e":0.28},{"d":28,"n":"ws008","e":0.28},{"d":28,"n":"ws009","e":0.36},{"d":28,"n":"ws010","e":0.43},{"d":28,"n":"ws011","e":0.65},{"d":28,"n":"ws014","e":0.32},{"d":28,"n":"ws015","e":0.6},{"d":28,"n":"ws016","e":0.12},{"d":28,"n":"ws017","e":0.49},{"d":28,"n":"ws019","e":0.58},{"d":28,"n":"ws021","e":1.26},{"d":28,"n":"ws022","e":0.6},{"d":28,"n":"ws023","e":0.9},{"d":28,"n":"ws024","e":2.1},{"d":28,"n":"ws025","e":0.54},{"d":28,"n":"ws026","e":1.28},
{"d":28,"n":"ws027","e":0.62},{"d":28,"n":"ws028","e":0.75},{"d":28,"n":"ws029","e":0.67},{"d":28,"n":"ws030","e":0.77},{"d":28,"n":"ws031","e":1.29},{"d":28,"n":"ws032","e":0.34},{"d":28,"n":"ws033","e":0.8},{"d":28,"n":"ws034","e":0.69},{"d":28,"n":"ws035","e":0.34},{"d":28,"n":"ws036","e":0.64},{"d":28,"n":"ws037","e":0.77},{"d":28,"n":"ws038","e":0.7},{"d":28,"n":"ws039","e":0.46},{"d":28,"n":"ws040","e":0.69},{"d":28,"n":"ws041","e":0.69},{"d":28,"n":"ws042","e":0.64},{"d":28,"n":"ws043","e":0.34},{"d":28,"n":"ws044","e":0.46},{"d":28,"n":"ws045","e":0.68},{"d":28,"n":"ws046","e":0.76},{"d":28,"n":"ws047","e":1.64},{"d":28,"n":"ws048","e":0.68},{"d":28,"n":"ws049","e":0.51},{"d":28,"n":"ws050","e":0.75},{"d":28,"n":"ws051","e":1.46},{"d":28,"n":"ws052","e":1.29},{"d":28,"n":"ws053","e":1.03},
{"d":28,"n":"ws054","e":1.6},{"d":28,"n":"ws055","e":1.6},{"d":28,"n":"ws056","e":1.4},{"d":28,"n":"ws057","e":1.7},{"d":28,"n":"ws058","e":1.6},{"d":28,"n":"ws059","e":2.3},{"d":28,"n":"ws060","e":1.6},{"d":28,"n":"ws061","e":1.2},{"d":28,"n":"ws062","e":1.7},
{"d":29,"n":"nan","e":1.1},{"d":29,"n":"ws002","e":0.65},{"d":29,"n":"ws003","e":0.4},{"d":29,"n":"ws004","e":0.35},{"d":29,"n":"ws007","e":0.32},{"d":29,"n":"ws008","e":0.3},{"d":29,"n":"ws009","e":0.4},{"d":29,"n":"ws010","e":0.48},{"d":29,"n":"ws011","e":0.72},{"d":29,"n":"ws014","e":0.36},{"d":29,"n":"ws015","e":0.66},{"d":29,"n":"ws016","e":0.14},{"d":29,"n":"ws017","e":0.54},{"d":29,"n":"ws019","e":0.65},{"d":29,"n":"ws021","e":1.4},{"d":29,"n":"ws022","e":0.66},{"d":29,"n":"ws023","e":1.0},{"d":29,"n":"ws024","e":2.3},{"d":29,"n":"ws025","e":0.6},{"d":29,"n":"ws026","e":1.45},
{"d":29,"n":"ws027","e":0.66},{"d":29,"n":"ws028","e":0.8},{"d":29,"n":"ws029","e":0.72},{"d":29,"n":"ws030","e":0.83},{"d":29,"n":"ws031","e":1.38},{"d":29,"n":"ws032","e":0.37},{"d":29,"n":"ws033","e":0.86},{"d":29,"n":"ws034","e":0.74},{"d":29,"n":"ws035","e":0.37},{"d":29,"n":"ws036","e":0.68},{"d":29,"n":"ws037","e":0.82},{"d":29,"n":"ws038","e":0.75},{"d":29,"n":"ws039","e":0.49},{"d":29,"n":"ws040","e":0.74},{"d":29,"n":"ws041","e":0.74},{"d":29,"n":"ws042","e":0.68},{"d":29,"n":"ws043","e":0.37},{"d":29,"n":"ws044","e":0.49},{"d":29,"n":"ws045","e":0.73},{"d":29,"n":"ws046","e":0.81},{"d":29,"n":"ws047","e":1.76},{"d":29,"n":"ws048","e":0.73},{"d":29,"n":"ws049","e":0.54},{"d":29,"n":"ws050","e":0.8},{"d":29,"n":"ws051","e":1.56},{"d":29,"n":"ws052","e":1.38},{"d":29,"n":"ws053","e":1.1},
{"d":29,"n":"ws054","e":1.6},{"d":29,"n":"ws055","e":1.6},{"d":29,"n":"ws056","e":1.4},{"d":29,"n":"ws057","e":1.7},{"d":29,"n":"ws058","e":1.6},{"d":29,"n":"ws059","e":2.1},{"d":29,"n":"ws060","e":1.6},{"d":29,"n":"ws061","e":1.2},{"d":29,"n":"ws062","e":1.7},
{"d":30,"n":"nan","e":1.05},{"d":30,"n":"ws002","e":0.6},{"d":30,"n":"ws003","e":0.35},{"d":30,"n":"ws004","e":0.31},{"d":30,"n":"ws007","e":0.28},{"d":30,"n":"ws008","e":0.28},{"d":30,"n":"ws009","e":0.36},{"d":30,"n":"ws010","e":0.43},{"d":30,"n":"ws011","e":0.65},{"d":30,"n":"ws014","e":0.32},{"d":30,"n":"ws015","e":0.6},{"d":30,"n":"ws016","e":0.12},{"d":30,"n":"ws017","e":0.49},{"d":30,"n":"ws019","e":0.58},{"d":30,"n":"ws021","e":1.26},{"d":30,"n":"ws022","e":0.6},{"d":30,"n":"ws023","e":0.9},{"d":30,"n":"ws024","e":2.1},{"d":30,"n":"ws025","e":0.54},{"d":30,"n":"ws026","e":1.28},
{"d":30,"n":"ws027","e":0.62},{"d":30,"n":"ws028","e":0.75},{"d":30,"n":"ws029","e":0.67},{"d":30,"n":"ws030","e":0.77},{"d":30,"n":"ws031","e":1.29},{"d":30,"n":"ws032","e":0.34},{"d":30,"n":"ws033","e":0.8},{"d":30,"n":"ws034","e":0.69},{"d":30,"n":"ws035","e":0.34},{"d":30,"n":"ws036","e":0.64},{"d":30,"n":"ws037","e":0.77},{"d":30,"n":"ws038","e":0.7},{"d":30,"n":"ws039","e":0.46},{"d":30,"n":"ws040","e":0.69},{"d":30,"n":"ws041","e":0.69},{"d":30,"n":"ws042","e":0.64},{"d":30,"n":"ws043","e":0.34},{"d":30,"n":"ws044","e":0.46},{"d":30,"n":"ws045","e":0.68},{"d":30,"n":"ws046","e":0.76},{"d":30,"n":"ws047","e":1.64},{"d":30,"n":"ws048","e":0.68},{"d":30,"n":"ws049","e":0.51},{"d":30,"n":"ws050","e":0.75},{"d":30,"n":"ws051","e":1.46},{"d":30,"n":"ws052","e":1.29},{"d":30,"n":"ws053","e":1.03},
{"d":30,"n":"ws054","e":1.5},{"d":30,"n":"ws055","e":1.5},{"d":30,"n":"ws056","e":1.3},{"d":30,"n":"ws057","e":1.55},{"d":30,"n":"ws058","e":1.45},{"d":30,"n":"ws059","e":2.05},{"d":30,"n":"ws060","e":1.5},{"d":30,"n":"ws061","e":1.1},{"d":30,"n":"ws062","e":1.55}
]},
"layer":[
{"mark":{"type":"bar","width":50},
"encoding":{
"x":{"field":"d","type":"quantitative","title":"day","scale":{"domain":[-0.5,30.47],"nice":false,"zero":false},"axis":{"values":[0,5,10,15,20,25,30],"grid":false,"domain":false,"ticks":false,"labelFontSize":18,"labelColor":"#e6e6e6","labelPadding":10,"titleFontSize":18,"titleColor":"#e6e6e6","titleFontWeight":"normal","titlePadding":6}},
"y":{"field":"e","type":"quantitative","title":"energy","stack":"zero","scale":{"domain":[0,56.93],"nice":false},"axis":{"values":[0,10,20,30,40,50],"grid":true,"gridColor":"#d0d0d0","gridDash":[2,10.3],"gridWidth":2,"domain":false,"ticks":false,"labelFontSize":18,"labelColor":"#e6e6e6","labelPadding":16,"titleFontSize":18,"titleColor":"#e6e6e6","titleFontWeight":"normal","titlePadding":14}},
"color":{"field":"n","type":"nominal","scale":{"domain":["nan","ws002","ws003","ws004","ws007","ws008","ws009","ws010","ws011","ws014","ws015","ws016","ws017","ws019","ws021","ws022","ws023","ws024","ws025","ws026","ws027","ws028","ws029","ws030","ws031","ws032","ws033","ws034","ws035","ws036","ws037","ws038","ws039","ws040","ws041","ws042","ws043","ws044","ws045","ws046","ws047","ws048","ws049","ws050","ws051","ws052","ws053","ws054","ws055","ws056","ws057","ws058","ws059","ws060","ws061","ws062"],
"range":["#34a3c9","#2b7e9e","#b3969d","#17907f","#cf4a47","#c9a21f","#4f545a","#6aaabc","#d27a4f","#8c4c82","#1e5a70","#927c7d","#166b5a","#9b3230","#8b7114","#3a3d43","#4b7179","#8c4b31","#5b3049","#0d2a2d","#5b4a49","#0b70c0","#474d55","#f0a050","#a2e010","#52565b","#90a0e8","#f8d062","#a25869","#2242a8","#d9c9b9","#3a90c8","#40474f","#f7a862","#c0e040","#707880","#a2b2f2","#f8d880","#c08090","#2241a2","#b2a290","#d2a242","#d08848","#303439","#905062","#4e5358","#8090d0","#1a2129","#a06030","#787068","#98c020","#1a70b0","#2f3338","#104a68","#6a8a10","#1a2a70"]},
"legend":{"orient":"none","legendX":-70,"legendY":-29,"direction":"horizontal","title":"name","titleOrient":"left","titleFontSize":19,"titleFontWeight":"bold","titleColor":"#ffffff","titlePadding":17,"labelFontSize":19,"labelColor":"#f0f0f0","symbolType":"circle","symbolSize":300,"symbolStrokeWidth":0,"symbolOpacity":1,"labelOffset":5,"columnPadding":13.5,"values":["nan","ws002","ws003","ws004","ws007","ws008","ws009","ws010","ws011","ws014","ws015","ws016","ws017","ws019","ws021","ws022","ws023","ws024","ws025","ws026"]}},
"order":{"field":"n","sort":"ascending"}
}},
{"data":{"values":[{"e":0}]},"mark":{"type":"rule","color":"#d0d0d0","strokeDash":[2,10.3],"strokeWidth":2},"encoding":{"y":{"field":"e","type":"quantitative","title":"energy"}}}
]
}
